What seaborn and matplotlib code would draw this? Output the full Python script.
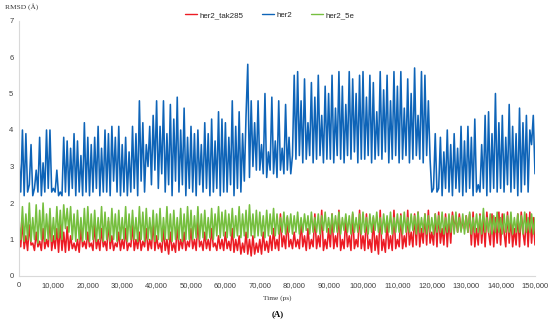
import pandas as pd
import matplotlib
matplotlib.use("Agg")
import matplotlib.pyplot as plt
import seaborn as sns

# -----------------------------
# Data (RMSD in Angstrom, one value per 500 ps)
# -----------------------------
time_ps = list(range(0, 150001, 500))

rmsd_her2_tak285 = [
    1.6, 0.8, 1.5, 0.75, 1.1, 0.7, 1.4, 0.85, 0.9, 0.7, 1.2, 0.8, 0.95, 0.7, 1.3, 0.75, 1.0, 0.8, 1.6, 0.7,
    1.1, 0.75, 1.3, 0.65, 1.4, 0.7, 1.2, 0.65, 1.35, 0.7, 1.1, 0.75, 0.9, 0.7, 1.0, 0.65, 1.3, 0.8, 0.95, 0.75,
    1.2, 0.8, 0.9, 0.7, 1.4, 0.75, 1.0, 0.7, 1.3, 0.8, 0.95, 0.7, 1.5, 0.75, 1.1, 0.7, 0.9, 0.8, 1.2, 0.7,
    1.0, 0.75, 1.3, 0.7, 0.9, 0.8, 1.4, 0.7, 1.0, 0.75, 1.2, 0.7, 0.95, 0.8, 1.3, 0.7, 1.0, 0.75, 1.5, 0.7,
    1.1, 0.75, 0.9, 0.65, 1.3, 0.7, 1.0, 0.6, 1.2, 0.7, 0.9, 0.65, 1.4, 0.7, 1.0, 0.75, 1.2, 0.7, 0.95, 0.8,
    1.3, 0.75, 1.0, 0.7, 1.5, 0.8, 0.95, 0.7, 1.2, 0.75, 1.0, 0.7, 1.3, 0.8, 0.9, 0.7, 1.1, 0.75, 1.0, 0.7,
    1.2, 0.75, 0.95, 0.7, 1.3, 0.65, 1.0, 0.7, 1.1, 0.6, 0.9, 0.65, 1.2, 0.6, 1.0, 0.55, 1.1, 0.6, 0.9, 0.65,
    1.0, 0.6, 1.2, 0.7, 0.95, 0.65, 1.1, 0.7, 1.3, 0.75, 1.0, 0.7, 1.7, 0.8, 1.1, 0.75, 1.6, 0.8, 1.0, 0.75,
    1.2, 0.8, 1.0, 0.75, 1.5, 0.8, 1.1, 0.7, 1.3, 0.75, 1.0, 0.8, 1.7, 0.75, 1.1, 0.8, 1.8, 0.7, 1.0, 0.75,
    1.3, 0.8, 1.7, 0.75, 1.1, 0.8, 1.8, 0.7, 1.0, 0.75, 1.6, 0.8, 1.1, 0.7, 1.7, 0.75, 1.0, 0.8, 1.8, 0.75,
    1.1, 0.7, 1.7, 0.75, 1.0, 0.65, 1.6, 0.7, 1.1, 0.6, 1.8, 0.7, 1.0, 0.65, 1.5, 0.75, 1.1, 0.7, 1.8, 0.75,
    1.0, 0.8, 1.7, 0.75, 1.1, 0.8, 1.8, 0.85, 1.2, 0.8, 1.7, 0.85, 1.75, 0.8, 1.3, 0.9, 1.7, 0.85, 1.8, 0.9,
    1.2, 0.85, 1.7, 0.8, 1.75, 0.9, 1.3, 0.85, 1.7, 0.8, 1.6, 0.9, 1.75, 1.3, 1.6, 1.2, 1.7, 1.25, 1.5, 1.3,
    1.65, 1.2, 1.7, 0.85, 1.75, 0.8, 1.3, 0.85, 1.7, 0.9, 1.6, 0.8, 1.75, 1.2, 0.85, 1.7, 0.8, 1.6, 0.9, 1.75,
    0.85, 1.7, 1.2, 0.8, 1.75, 0.9, 1.6, 0.8, 1.3, 0.85, 1.7, 0.8, 1.75, 1.2, 0.85, 1.7, 0.8, 1.75, 0.9, 1.6,
    0.85,
]

rmsd_her2 = [
    3.2, 2.3, 4.0, 2.2, 3.9, 2.3, 2.5, 3.6, 2.2, 2.4, 2.9, 2.3, 3.8, 2.2, 3.1, 2.3, 4.0, 2.4, 4.0, 2.3,
    2.4, 2.3, 2.9, 2.2, 2.3, 2.2, 3.8, 2.3, 3.7, 2.2, 3.5, 2.4, 3.9, 2.2, 3.7, 2.3, 3.3, 2.2, 4.2, 2.3,
    3.8, 2.2, 3.6, 2.3, 3.8, 2.4, 4.1, 2.2, 3.5, 2.3, 4.0, 2.3, 3.9, 2.2, 4.1, 2.6, 3.8, 2.3, 4.1, 2.2,
    3.6, 2.3, 3.8, 2.2, 3.4, 2.3, 4.1, 2.4, 3.9, 2.2, 4.8, 2.6, 4.2, 2.3, 3.6, 3.0, 4.1, 2.5, 4.4, 2.9,
    4.8, 2.4, 4.1, 2.8, 4.8, 2.3, 3.9, 2.5, 4.7, 2.2, 4.3, 2.6, 4.9, 2.3, 4.0, 2.5, 4.6, 2.2, 3.8, 2.4,
    4.1, 2.3, 3.9, 2.2, 4.0, 2.5, 3.6, 2.3, 4.2, 2.4, 3.9, 2.2, 4.3, 2.3, 3.7, 2.4, 4.5, 2.2, 4.3, 2.3,
    4.2, 2.3, 3.8, 2.5, 4.8, 2.2, 4.1, 2.4, 4.5, 2.3, 3.9, 2.6, 4.4, 5.8, 2.7, 4.8, 3.0, 4.2, 2.9, 4.8,
    2.9, 3.6, 2.8, 5.0, 2.7, 3.4, 2.9, 4.9, 2.8, 3.7, 2.7, 4.8, 2.9, 3.5, 2.8, 4.7, 2.9, 3.8, 2.8, 3.3,
    5.5, 3.2, 5.6, 3.3, 4.8, 3.1, 5.4, 3.2, 4.2, 3.3, 5.3, 3.1, 4.9, 3.2, 5.5, 3.3, 4.4, 3.1, 5.2, 3.2,
    5.0, 3.2, 5.5, 3.1, 4.6, 3.3, 5.6, 3.2, 5.2, 3.1, 4.7, 3.3, 5.6, 3.2, 5.4, 3.4, 5.0, 3.1, 5.5, 3.2,
    5.6, 3.2, 4.9, 3.3, 5.5, 3.1, 5.3, 3.2, 4.5, 3.3, 5.6, 3.2, 5.1, 3.4, 5.5, 3.1, 4.8, 3.2, 5.6, 3.3,
    5.2, 3.1, 5.6, 3.2, 4.6, 3.3, 5.4, 3.1, 5.0, 3.2, 5.7, 3.3, 4.4, 3.2, 5.6, 3.1, 5.5, 3.3, 4.8, 3.2,
    2.3, 2.4, 3.9, 2.3, 2.4, 3.8, 2.2, 3.4, 2.4, 4.0, 2.3, 3.6, 2.2, 3.9, 2.4, 3.5, 2.3, 4.1, 2.2, 3.7,
    2.3, 4.1, 2.4, 3.8, 2.2, 4.3, 2.3, 2.5, 2.3, 3.6, 2.4, 4.4, 2.2, 4.5, 2.3, 3.9, 2.4, 5.0, 2.3, 4.2,
    2.4, 4.4, 2.3, 3.8, 2.5, 4.7, 2.3, 4.1, 2.4, 3.9, 2.2, 4.6, 2.3, 4.2, 2.5, 4.4, 2.3, 4.0, 3.6, 4.4,
    2.8,
]

rmsd_her2_5e = [
    1.4, 1.0, 1.9, 0.95, 1.7, 1.0, 2.0, 0.95, 1.6, 1.0, 1.95, 0.9, 1.8, 1.0, 2.0, 0.95, 1.7, 1.0, 1.85, 0.95,
    1.6, 1.0, 1.9, 1.05, 1.8, 1.0, 1.95, 1.3, 1.85, 1.2, 1.9, 1.0, 1.7, 0.95, 1.8, 1.0, 1.6, 0.95, 1.85, 1.0,
    1.9, 0.95, 1.7, 1.0, 1.8, 0.95, 1.6, 1.0, 1.9, 0.95, 1.75, 1.0, 1.6, 0.95, 1.85, 1.0, 1.7, 0.95, 1.8, 1.0,
    1.6, 1.0, 1.9, 0.95, 1.7, 1.0, 1.8, 1.0, 1.6, 0.95, 1.9, 1.0, 1.75, 0.95, 1.85, 1.0, 1.6, 1.0, 1.8, 0.95,
    1.7, 1.0, 1.85, 0.95, 1.6, 1.0, 1.9, 1.0, 1.7, 0.95, 1.8, 1.0, 1.6, 1.0, 1.85, 0.95, 1.7, 1.0, 1.9, 1.0,
    1.8, 1.0, 1.65, 1.05, 1.9, 1.0, 1.7, 1.05, 1.8, 1.0, 1.6, 1.05, 1.85, 1.0, 1.7, 1.1, 1.9, 1.05, 1.75, 1.1,
    1.8, 1.05, 1.7, 1.1, 1.85, 1.05, 1.65, 1.1, 1.9, 1.05, 1.7, 1.1, 1.8, 1.05, 1.95, 1.1, 1.7, 1.05, 1.8, 1.1,
    1.75, 1.1, 1.65, 1.05, 1.8, 1.1, 1.7, 1.15, 1.85, 1.1, 1.7, 1.15, 1.6, 1.2, 1.75, 1.15, 1.65, 1.2, 1.7, 1.15,
    1.65, 1.2, 1.75, 1.15, 1.6, 1.2, 1.7, 1.25, 1.65, 1.15, 1.75, 1.2, 1.6, 1.2, 1.7, 1.15, 1.65, 1.25, 1.75, 1.2,
    1.6, 1.15, 1.7, 1.2, 1.65, 1.2, 1.75, 1.15, 1.6, 1.25, 1.7, 1.2, 1.65, 1.15, 1.75, 1.2, 1.6, 1.2, 1.7, 1.15,
    1.75, 1.2, 1.6, 1.15, 1.7, 1.2, 1.65, 1.25, 1.75, 1.2, 1.6, 1.15, 1.7, 1.2, 1.65, 1.2, 1.75, 1.15, 1.6, 1.2,
    1.7, 1.2, 1.65, 1.15, 1.75, 1.2, 1.6, 1.2, 1.7, 1.25, 1.65, 1.15, 1.75, 1.2, 1.6, 1.2, 1.7, 1.15, 1.65, 1.2,
    1.6, 1.15, 1.7, 1.2, 1.65, 1.2, 1.75, 1.15, 1.6, 1.2, 1.7, 1.2, 1.65, 1.15, 1.75, 1.2, 1.6, 1.2, 1.7, 1.15,
    1.65, 1.2, 1.75, 1.15, 1.6, 1.2, 1.7, 1.2, 1.65, 1.15, 1.85, 1.2, 1.6, 1.2, 1.7, 1.15, 1.65, 1.2, 1.75, 1.2,
    1.6, 1.15, 1.7, 1.2, 1.65, 1.2, 1.75, 1.15, 1.6, 1.2, 1.7, 1.2, 1.65, 1.15, 1.75, 1.2, 1.6, 1.2, 1.7, 1.15,
    1.6,
]

series_names = ["her2_tak285", "her2", "her2_5e"]
colors = {"her2_tak285": "#ec1c24", "her2": "#0e64b8", "her2_5e": "#76bf3f"}

x_ticks = list(range(0, 150001, 10000))
x_tick_labels = [f"{t:,}" for t in x_ticks]
y_ticks = [0, 1, 2, 3, 4, 5, 6, 7]

# -----------------------------
# Long-form table for seaborn
# -----------------------------
df = pd.concat([
    pd.DataFrame({"time": time_ps, "rmsd": rmsd_her2_tak285, "system": "her2_tak285"}),
    pd.DataFrame({"time": time_ps, "rmsd": rmsd_her2, "system": "her2"}),
    pd.DataFrame({"time": time_ps, "rmsd": rmsd_her2_5e, "system": "her2_5e"}),
], ignore_index=True)

# -----------------------------
# Plot
# -----------------------------
sns.set_style("white")
plt.rcParams["font.family"] = ["Liberation Sans", "DejaVu Sans"]

fig = plt.figure(figsize=(5.5, 3.25), dpi=100)
ax = fig.add_axes([19 / 550, 1 - 276 / 325, (535 - 19) / 550, (276 - 20.5) / 325])

sns.lineplot(data=df, x="time", y="rmsd", hue="system", hue_order=series_names,
             palette=colors, estimator=None, sort=False, linewidth=1.15, ax=ax)

ax.set_xlim(0, 150000)
ax.set_ylim(0, 7)
ax.set_xticks(x_ticks)
ax.set_xticklabels(x_tick_labels)
ax.set_yticks(y_ticks)
ax.set_xlabel("")
ax.set_ylabel("")
ax.tick_params(axis="both", labelsize=5.5, labelcolor="#404040", length=2,
               width=0.6, color="#d0d0d0", pad=2)

for side in ["top", "right"]:
    ax.spines[side].set_visible(False)
for side in ["left", "bottom"]:
    ax.spines[side].set_color("#d9d9d9")
    ax.spines[side].set_linewidth(0.8)

# legend on top, centered
handles, labels = ax.get_legend_handles_labels()
ax.get_legend().remove()
leg = fig.legend(handles, labels, loc="center", bbox_to_anchor=(0.49, 0.953),
                 ncol=3, frameon=False, fontsize=5.7, handlelength=1.5,
                 columnspacing=2.4, handletextpad=0.3)
for line in leg.get_lines():
    line.set_linewidth(1.0)

# axis titles (serif, like the original)
fig.text(5 / 550, 1 - 7 / 325, "RMSD (Å)", fontsize=5.3, family="Liberation Serif",
         color="#333333", ha="left", va="center")
fig.text(0.504, 1 - 298 / 325, "Time (ps)", fontsize=5.3, family="Liberation Serif",
         color="#333333", ha="center", va="center")
fig.text(0.504, 1 - 314 / 325, "(A)", fontsize=6.3, family="Liberation Serif",
         weight="bold", color="black", ha="center", va="center")

fig.savefig("out.png", dpi=100)
plt.close(fig)
print("Saved: out.png")
